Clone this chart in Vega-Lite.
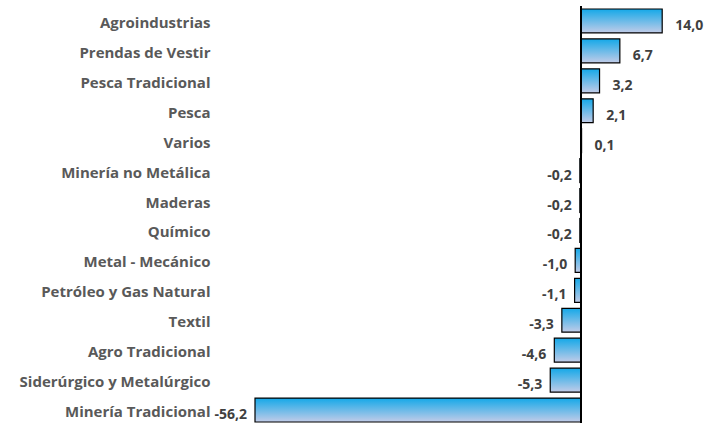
{
  "$schema": "https://vega.github.io/schema/vega-lite/v6.json",
  "autosize": {"type": "none"},
  "padding": {"left": 255, "top": 6, "right": 12, "bottom": 0},
  "width": 442,
  "height": 419,
  "background": "white",
  "config": {
    "view": {"stroke": null},
    "locale": {"number": {"decimal": ",", "thousands": ".", "grouping": [3], "currency": ["", ""], "minus": "-"}},
    "font": "Open Sans"
  },
  "data": {
    "values": [
      {"sector": "Agroindustrias", "valor": 14.0},
      {"sector": "Prendas de Vestir", "valor": 6.7},
      {"sector": "Pesca Tradicional", "valor": 3.2},
      {"sector": "Pesca", "valor": 2.1},
      {"sector": "Varios", "valor": 0.1},
      {"sector": "Minería no Metálica", "valor": -0.2},
      {"sector": "Maderas", "valor": -0.2},
      {"sector": "Químico", "valor": -0.2},
      {"sector": "Metal - Mecánico", "valor": -1.0},
      {"sector": "Petróleo y Gas Natural", "valor": -1.1},
      {"sector": "Textil", "valor": -3.3},
      {"sector": "Agro Tradicional", "valor": -4.6},
      {"sector": "Siderúrgico y Metalúrgico", "valor": -5.3},
      {"sector": "Minería Tradicional", "valor": -56.2}
    ]
  },
  "encoding": {
    "y": {
      "field": "sector", "type": "nominal", "sort": null,
      "scale": {"paddingInner": 0.2, "paddingOuter": 0.1},
      "axis": {
        "title": null, "domain": false, "ticks": false, "labelPadding": 45, "labelOffset": 2,
        "labelFont": "Open Sans", "labelFontSize": 15, "labelFontWeight": "bold",
        "labelColor": "#595959", "labelLimit": 300
      }
    },
    "x": {
      "field": "valor", "type": "quantitative",
      "scale": {"domain": [-56.2, 20], "nice": false, "zero": false},
      "axis": null
    }
  },
  "layer": [
    {
      "mark": {
        "type": "bar",
        "stroke": "#000000",
        "strokeWidth": 1.2,
        "color": {
          "gradient": "linear", "x1": 0, "y1": 0, "x2": 0, "y2": 1,
          "stops": [
            {"offset": 0, "color": "#14A8E8"},
            {"offset": 1, "color": "#C2CCE8"}
          ]
        }
      }
    },
    {
      "mark": {"type": "rule", "color": "#000000", "strokeWidth": 1.2},
      "encoding": {"x": {"datum": 0}, "y": null}
    },
    {
      "transform": [{"filter": "datum.valor >= 0"}],
      "mark": {"type": "text", "align": "left", "dx": 13, "dy": 5, "fontSize": 14, "fontWeight": "bold", "color": "#404040", "font": "Open Sans"},
      "encoding": {"text": {"field": "valor", "type": "quantitative", "format": ".1f"}}
    },
    {
      "transform": [{"filter": "datum.valor < 0"}],
      "mark": {"type": "text", "align": "right", "dx": -8, "dy": 5, "fontSize": 14, "fontWeight": "bold", "color": "#404040", "font": "Open Sans"},
      "encoding": {"text": {"field": "valor", "type": "quantitative", "format": ".1f"}}
    }
  ]
}
